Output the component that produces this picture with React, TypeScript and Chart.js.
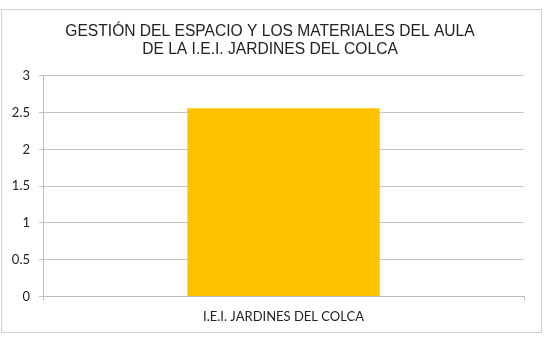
import React, { useEffect, useRef } from "react";
import { Chart, registerables } from "chart.js";

Chart.register(...registerables);

const categories: string[] = ["I.E.I. JARDINES DEL COLCA"];
const values: number[] = [2.56];
const titleLines: string[] = [
  "GESTIÓN DEL ESPACIO Y LOS MATERIALES DEL AULA",
  "DE LA I.E.I. JARDINES DEL COLCA",
];
const yMin = 0;
const yMax = 3;
const yStep = 0.5;

const framePlugin = {
  id: "frame",
  beforeDraw(chart: any) {
    const ctx = chart.ctx;
    ctx.save();
    ctx.fillStyle = "#ffffff";
    ctx.fillRect(0, 0, chart.width, chart.height);
    ctx.strokeStyle = "#d0d0d0";
    ctx.lineWidth = 1;
    ctx.strokeRect(1.5, 9.5, 540, 323);
    ctx.restore();
  },
};

export default function App() {
  const ref = useRef<HTMLCanvasElement | null>(null);

  useEffect(() => {
    document.body.style.margin = "0";
    const canvas = ref.current;
    if (!canvas) return;
    const chart = new Chart(canvas, {
      type: "bar",
      data: {
        labels: categories,
        datasets: [
          {
            data: values,
            backgroundColor: "#FFC000",
            borderWidth: 0,
            barPercentage: 0.4,
            categoryPercentage: 1,
          },
        ],
      },
      options: {
        responsive: false,
        animation: false,
        layout: { padding: { top: 0, left: 0, right: 8, bottom: 12 } },
        plugins: {
          legend: { display: false },
          tooltip: { enabled: false },
          title: {
            display: true,
            text: titleLines,
            color: "#222222",
            font: { family: "'Liberation Sans', Arial, sans-serif", size: 15.6, weight: "normal", lineHeight: 1.18 },
            padding: { top: 22, bottom: 17 },
          },
        },
        scales: {
          x: {
            grid: {
              display: true,
              drawOnChartArea: false,
              drawTicks: true,
              tickLength: 4,
              color: "#bdbdbd",
            },
            border: { color: "#bdbdbd" },
            ticks: {
              color: "#222222",
              padding: 9,
              font: { family: "Lato, 'Open Sans', sans-serif", size: 13 },
            },
          },
          y: {
            min: yMin,
            max: yMax,
            afterFit(scale: any) {
              scale.width = 43;
            },
            grid: {
              color: "#c4c4c4",
              tickLength: 4,
            },
            border: { color: "#bdbdbd" },
            ticks: {
              stepSize: yStep,
              color: "#222222",
              padding: 9,
              font: { family: "Lato, 'Open Sans', sans-serif", size: 13 },
              callback: (v: any) => String(Number(v)),
            },
          },
          yRightSpacer: {
            type: "linear",
            position: "right",
            display: true,
            min: yMin,
            max: yMax,
            afterFit(scale: any) {
              scale.width = 16;
            },
            grid: { display: false, drawOnChartArea: false },
            border: { display: false },
            ticks: { display: false },
          },
        },
      },
      plugins: [framePlugin],
    });
    return () => chart.destroy();
  }, []);

  return (
    <div style={{ position: "absolute", left: 0, top: 0, width: 548, height: 346 }}>
      <canvas ref={ref} width={548} height={346} />
    </div>
  );
}
